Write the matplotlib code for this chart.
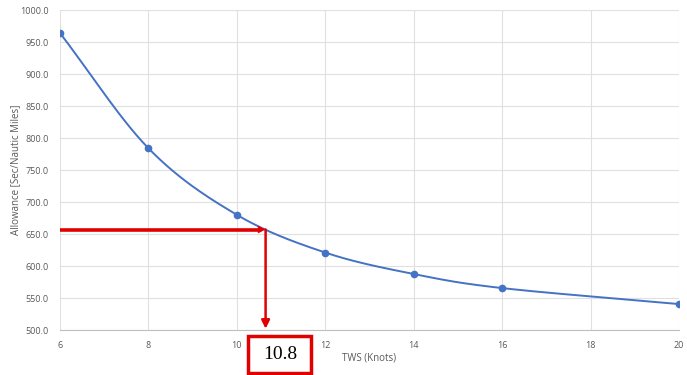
import numpy as np
import matplotlib
matplotlib.use("Agg")
import matplotlib.pyplot as plt
from matplotlib.patches import Rectangle

tws = [6, 8, 10, 12, 14, 16, 20]
allowance = [964, 784, 680, 621, 587.5, 565.5, 540.5]
x_ticks = [6, 8, 10, 12, 14, 16, 18, 20]
y_ticks = [500, 550, 600, 650, 700, 750, 800, 850, 900, 950, 1000]
read_x = 10.65
read_y = 657
read_label = "10.8"


def smooth(xs, ys, n=30):
    # Catmull-Rom rendering of the Excel "smoothed line"
    xs = np.asarray(xs, float); ys = np.asarray(ys, float)
    px = np.concatenate([[2*xs[0]-xs[1]], xs, [2*xs[-1]-xs[-2]]])
    py = np.concatenate([[2*ys[0]-ys[1]], ys, [2*ys[-1]-ys[-2]]])
    ox, oy = [], []
    t = np.linspace(0, 1, n)
    for i in range(1, len(px)-2):
        p0, p1, p2, p3 = [np.array([px[j], py[j]]) for j in (i-1, i, i+1, i+2)]
        m1 = (p2 - p0) / 2
        m2 = (p3 - p1) / 2
        h00 = 2*t**3 - 3*t**2 + 1
        h10 = t**3 - 2*t**2 + t
        h01 = -2*t**3 + 3*t**2
        h11 = t**3 - t**2
        pts = np.outer(h00, p1) + np.outer(h10, m1) + np.outer(h01, p2) + np.outer(h11, m2)
        ox.extend(pts[:, 0]); oy.extend(pts[:, 1])
    return np.array(ox), np.array(oy)


plt.rcParams["font.family"] = ["Open Sans", "DejaVu Sans"]

fig = plt.figure(figsize=(6.87, 3.75), dpi=100)
ax = fig.add_axes([60/687, 45/375, 619/687, 320/375])

sx, sy = smooth(tws, allowance)
blue = "#4472C4"
ax.plot(sx, sy, color=blue, lw=1.4, zorder=3)
ax.plot(tws, allowance, "o", color=blue, ms=4.5, zorder=4)

ax.set_xlim(6, 20)
ax.set_ylim(500, 1000)
ax.set_xticks(x_ticks)
ax.set_yticks(y_ticks)
ax.set_yticklabels([f"{v:.1f}" for v in y_ticks])
ax.grid(True, color="#E0E0E0", lw=0.8)
ax.set_axisbelow(True)
for s in ["top", "right", "left"]:
    ax.spines[s].set_visible(False)
ax.spines["bottom"].set_color("#BFBFBF")
ax.tick_params(length=0, labelsize=6.5, labelcolor="#595959", pad=8)

ax.set_ylabel("Allowance [Sec/Nautic Miles]", fontsize=7, color="#595959")
ax.yaxis.set_label_coords(-39/619, 0.5)
ax.set_xlabel("TWS (Knots)", fontsize=7, color="#595959")
ax.xaxis.set_label_coords(0.5, -22/320)

red = "#E00000"
ax.plot([6, read_x - 0.1], [read_y, read_y], color=red, lw=2.6, zorder=5, solid_capstyle="butt")
ax.annotate("", xy=(read_x, read_y), xytext=(read_x - 0.4, read_y),
            arrowprops=dict(arrowstyle="-|>", color=red, lw=0.5, mutation_scale=12,
                            shrinkA=0, shrinkB=0), zorder=6)
ax.annotate("", xy=(read_x, 502), xytext=(read_x, read_y),
            arrowprops=dict(arrowstyle="-|>", color=red, lw=1.8, mutation_scale=12,
                            shrinkA=0, shrinkB=0), zorder=6)

box = Rectangle((248/687, (375-373)/375), 63/687, 37/375, transform=fig.transFigure,
                fill=False, edgecolor=red, lw=2.5)
fig.patches.append(box)
fig.text(280/687, (375-354.5)/375, read_label, ha="center", va="center",
         fontsize=14, family="Liberation Serif", color="black")

fig.savefig("out.png", dpi=100)
